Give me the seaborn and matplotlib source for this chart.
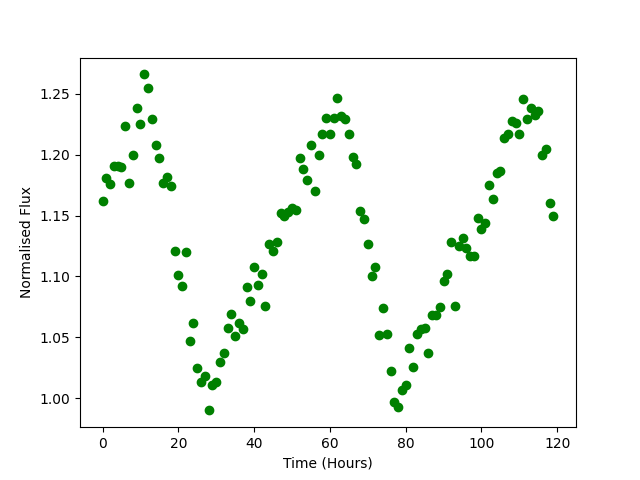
import numpy as np
import pandas as pd
import matplotlib
matplotlib.use("Agg")
import matplotlib.pyplot as plt
import seaborn as sns

hours = list(range(120))
flux = [1.162, 1.181, 1.176, 1.191, 1.191, 1.190, 1.224, 1.177, 1.200, 1.238,
        1.225, 1.266, 1.255, 1.229, 1.208, 1.197, 1.177, 1.182, 1.174, 1.121,
        1.101, 1.092, 1.120, 1.047, 1.062, 1.025, 1.013, 1.018, 0.990, 1.011,
        1.013, 1.030, 1.037, 1.058, 1.069, 1.051, 1.062, 1.057, 1.091, 1.080,
        1.108, 1.093, 1.102, 1.076, 1.127, 1.121, 1.128, 1.152, 1.150, 1.153,
        1.156, 1.155, 1.197, 1.188, 1.179, 1.208, 1.170, 1.200, 1.217, 1.230,
        1.217, 1.230, 1.247, 1.232, 1.229, 1.217, 1.198, 1.192, 1.154, 1.147,
        1.127, 1.100, 1.108, 1.052, 1.074, 1.053, 1.022, 0.997, 0.993, 1.007,
        1.011, 1.041, 1.026, 1.053, 1.057, 1.058, 1.037, 1.068, 1.068, 1.075,
        1.096, 1.102, 1.128, 1.076, 1.125, 1.132, 1.123, 1.117, 1.117, 1.148,
        1.139, 1.144, 1.175, 1.164, 1.185, 1.187, 1.214, 1.217, 1.228, 1.226,
        1.217, 1.246, 1.229, 1.238, 1.233, 1.236, 1.200, 1.205, 1.160, 1.150]

df = pd.DataFrame({"Time": hours, "Flux": flux})

fig, ax = plt.subplots(figsize=(6.4, 4.8), dpi=100)
sns.scatterplot(data=df, x="Time", y="Flux", color="green", s=36,
                edgecolor="green", linewidth=1, ax=ax)
ax.set_xlabel("Time (Hours)")
ax.set_ylabel("Normalised Flux")
fig.savefig("out.png")
